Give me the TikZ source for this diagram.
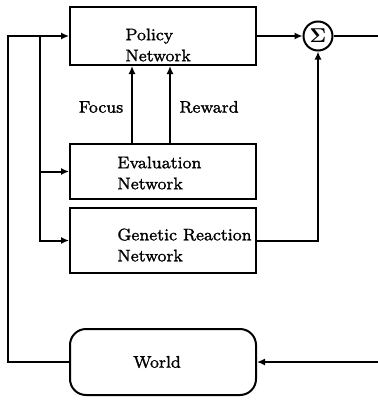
\documentclass[tikz,border=0pt]{standalone}
\usepackage[no-math]{fontspec}
\newfontfamily\heavy{Latin Modern Roman}[FakeBold=1.2]
\usetikzlibrary{arrows.meta}
\begin{document}
\begin{tikzpicture}[x=0.5pt,y=-0.5pt,
  box/.style={draw,line width=1pt,minimum width=93pt,inner sep=0pt},
  lbl/.style={font=\heavy\fontsize{8.4}{10.5}\selectfont,inner sep=0pt,align=left},
  arr/.style={line width=1pt,-{Latex[length=4pt,width=3.6pt]}},
  ln/.style={line width=1pt}]
\useasboundingbox (0,0) rectangle (378,402);
\node[box,minimum height=29pt] (policy) at (163,36) {};
\node[box,minimum height=27.5pt] (eval) at (163,171.5) {};
\node[box,minimum height=32.5pt] (genetic) at (163,240.5) {};
\node[box,minimum height=33pt,rounded corners=8pt] (world) at (163,362) {};
\node[draw,circle,line width=1pt,minimum size=14.5pt,inner sep=0pt] (sigma) at (318,36) {$\mathbf{\Sigma}$};
\node[lbl,anchor=west] (tp) at (125,45) {Policy\\Network};
\node[lbl,anchor=west] (te) at (117,173) {Evaluation\\Network};
\node[lbl,anchor=west] (tg) at (117,245) {Genetic Reaction\\Network};
\node[lbl] (tw) at (157,362) {World};
\node[lbl] (tf) at (101,107) {Focus};
\node[lbl] (tr) at (209,107) {Reward};
\coordinate (lft) at (8,0);
\coordinate (br) at (40,0);
\coordinate (fx) at (132,0);
\coordinate (rx) at (170,0);
\coordinate (out) at (378,36);
\coordinate (win) at (378,362);
\draw[arr] (world.west) -- (world.west -| lft) |- (policy.west);
\draw[arr] (policy.west -| br) |- (genetic.west);
\draw[arr] (eval.west -| br) -- (eval.west);
\draw[arr] (eval.north -| fx) -- (policy.south -| fx);
\draw[arr] (eval.north -| rx) -- (policy.south -| rx);
\draw[arr] (policy.east) -- (sigma.west);
\draw[ln] (sigma.east) -- (out);
\draw[arr] (genetic.east) -| (sigma.south);
\draw[arr] (win) -- (world.east);
\end{tikzpicture}
\end{document}
